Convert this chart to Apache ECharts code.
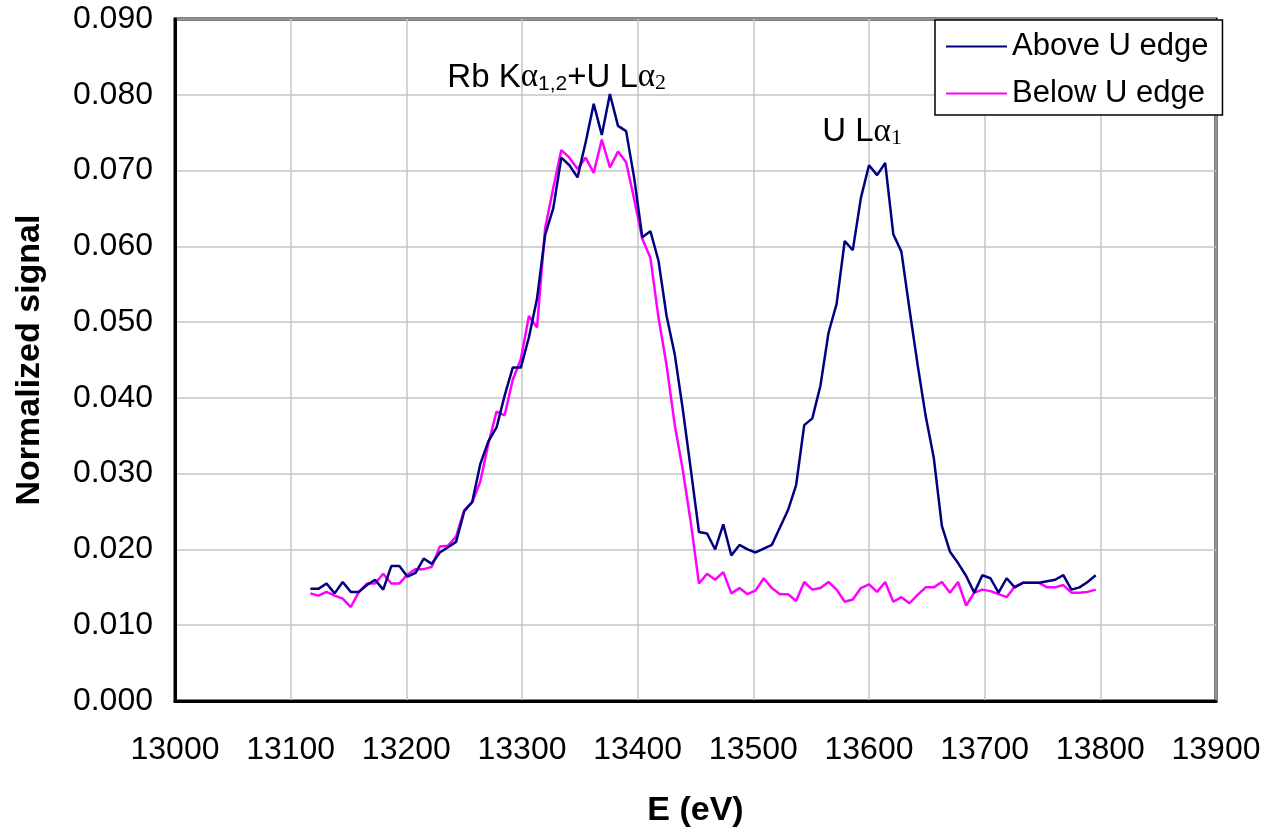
<!DOCTYPE html>
<html><head><meta charset="utf-8">
<script src="https://cdn.jsdelivr.net/npm/echarts@6/dist/echarts.min.js"></script>
<style>html,body{margin:0;padding:0;background:#fff}#c{width:1265px;height:833px}</style>
</head><body><div id="c"></div>
<script>
// Energy grid (eV)
const energies = [
13117,13124,13131,13138,13145,13152,13159,13166,13173,13180,
13187,13194,13201,13208,13215,13222,13229,13236,13243,13250,
13257,13264,13271,13278,13285,13292,13299,13306,13313,13320,
13327,13334,13341,13348,13355,13362,13369,13376,13383,13390,
13397,13404,13411,13418,13425,13432,13439,13446,13453,13460,
13467,13474,13481,13488,13495,13502,13509,13516,13523,13530,
13537,13544,13551,13558,13565,13572,13579,13586,13593,13600,
13607,13614,13621,13628,13635,13642,13649,13656,13663,13670,
13677,13684,13691,13698,13705,13712,13719,13726,13733,13740,
13747,13754,13761,13768,13775,13782,13789,13796];

const aboveEdge = [
0.0148,0.0148,0.0155,0.0142,0.0157,0.0144,0.0144,0.0153,0.0160,0.0147,
0.0178,0.0178,0.0164,0.0169,0.0188,0.0181,0.0196,0.0203,0.0210,0.0250,
0.0263,0.0313,0.0343,0.0361,0.0403,0.0440,0.0440,0.0480,0.0531,0.0615,
0.0650,0.0717,0.0707,0.0691,0.0737,0.0788,0.0747,0.0801,0.0759,0.0752,
0.0690,0.0612,0.0620,0.0581,0.0508,0.0458,0.0385,0.0305,0.0223,0.0221,
0.0200,0.0233,0.0192,0.0206,0.0200,0.0196,0.0201,0.0206,0.0229,0.0252,
0.0285,0.0364,0.0373,0.0416,0.0486,0.0524,0.0607,0.0595,0.0664,0.0707,
0.0694,0.0710,0.0616,0.0593,0.0517,0.0444,0.0376,0.0321,0.0231,0.0197,
0.0182,0.0165,0.0143,0.0166,0.0162,0.0143,0.0162,0.0150,0.0156,0.0156,
0.0156,0.0158,0.0160,0.0166,0.0147,0.0150,0.0157,0.0166];

const belowEdge = [
0.0142,0.0139,0.0144,0.0139,0.0135,0.0124,0.0144,0.0155,0.0155,0.0168,
0.0155,0.0155,0.0167,0.0174,0.0174,0.0177,0.0204,0.0205,0.0217,0.0252,
0.0262,0.0290,0.0340,0.0382,0.0377,0.0424,0.0451,0.0508,0.0493,0.0624,
0.0677,0.0727,0.0717,0.0702,0.0717,0.0697,0.0741,0.0704,0.0725,0.0711,
0.0662,0.0610,0.0585,0.0506,0.0443,0.0365,0.0305,0.0235,0.0155,0.0168,
0.0160,0.0170,0.0142,0.0149,0.0141,0.0146,0.0162,0.0149,0.0141,0.0141,
0.0132,0.0157,0.0147,0.0149,0.0157,0.0147,0.0131,0.0134,0.0149,0.0154,
0.0144,0.0157,0.0131,0.0137,0.0129,0.0140,0.0150,0.0150,0.0157,0.0143,
0.0157,0.0126,0.0143,0.0147,0.0145,0.0141,0.0137,0.0151,0.0156,0.0156,
0.0156,0.0150,0.0150,0.0153,0.0143,0.0143,0.0144,0.0147];

const seriesNames = ['Above U edge', 'Below U edge'];
const xAxisTitle = 'E (eV)';
const yAxisTitle = 'Normalized signal';

const SANS = 'Liberation Sans, Arial, sans-serif';
const SERIF = 'Liberation Serif, Times New Roman, serif';

function pairs(xs, ys) { return xs.map((x, i) => [x, ys[i]]); }

const annRich = {
  n: {fontFamily: SANS, fontSize: 33, lineHeight: 40, verticalAlign: 'bottom', color: '#000'},
  g: {fontFamily: SERIF, fontSize: 33, lineHeight: 40, verticalAlign: 'bottom', color: '#000'},
  s: {fontFamily: SANS, fontSize: 21, lineHeight: 23, verticalAlign: 'bottom', color: '#000'},
  t: {fontFamily: SERIF, fontSize: 22, lineHeight: 23, verticalAlign: 'bottom', color: '#000'}
};

const chart = echarts.init(document.getElementById('c'), null, {renderer: 'canvas'});
chart.setOption({
  animation: false,
  backgroundColor: '#fff',
  grid: {left: 175, right: 49, top: 19, bottom: 130, show: true, borderColor: '#000', borderWidth: 3, backgroundColor: 'transparent'},
  legend: {
    orient: 'vertical', left: 935, top: 20,
    padding: [9, 14, 4, 11], itemGap: 12,
    icon: 'rect', itemWidth: 61, itemHeight: 2,
    backgroundColor: '#fff', borderColor: '#000', borderWidth: 1.5,
    textStyle: {fontFamily: SANS, fontSize: 31, color: '#000', lineHeight: 35},
    data: seriesNames
  },
  xAxis: {
    type: 'value', min: 13000, max: 13900, interval: 100,
    name: xAxisTitle, nameLocation: 'middle', nameGap: 93,
    nameTextStyle: {fontFamily: SANS, fontSize: 34, fontWeight: 'bold', color: '#000'},
    axisLine: {show: true, lineStyle: {color: '#000', width: 3}},
    axisTick: {show: false},
    axisLabel: {fontFamily: SANS, fontSize: 32, color: '#000', margin: 33, formatter: v => String(v)},
    splitLine: {show: true, lineStyle: {color: '#c4c4c4', width: 1.5}}
  },
  yAxis: {
    type: 'value', min: 0, max: 0.09, interval: 0.01,
    name: yAxisTitle, nameLocation: 'middle', nameGap: 128,
    nameTextStyle: {fontFamily: SANS, fontSize: 34, fontWeight: 'bold', color: '#000'},
    axisLine: {show: true, lineStyle: {color: '#000', width: 3}},
    axisTick: {show: false},
    axisLabel: {fontFamily: SANS, fontSize: 32, color: '#000', margin: 22, formatter: v => v.toFixed(3)},
    splitLine: {show: true, lineStyle: {color: '#c4c4c4', width: 1.5}}
  },
  series: [
    {
      name: seriesNames[0], type: 'line', symbol: 'none',
      data: pairs(energies, aboveEdge),
      lineStyle: {color: '#000080', width: 2.5}, itemStyle: {color: '#000080'},
      z: 3,
      markPoint: {
        symbol: 'circle', symbolSize: 0, silent: true,
        label: {show: true, position: 'inside', rich: annRich},
        data: [
          {coord: [13330, 0.0827], label: {formatter: '{n|Rb K}{g|α}{s|1,2}{n|+U L}{g|α}{t|2}'}},
          {coord: [13594, 0.0755], label: {formatter: '{n|U L}{g|α}{t|1}'}}
        ]
      }
    },
    {
      name: seriesNames[1], type: 'line', symbol: 'none',
      data: pairs(energies, belowEdge),
      lineStyle: {color: '#ff00ff', width: 2.5}, itemStyle: {color: '#ff00ff'},
      z: 2
    }
  ]
});
</script>
</body></html>
